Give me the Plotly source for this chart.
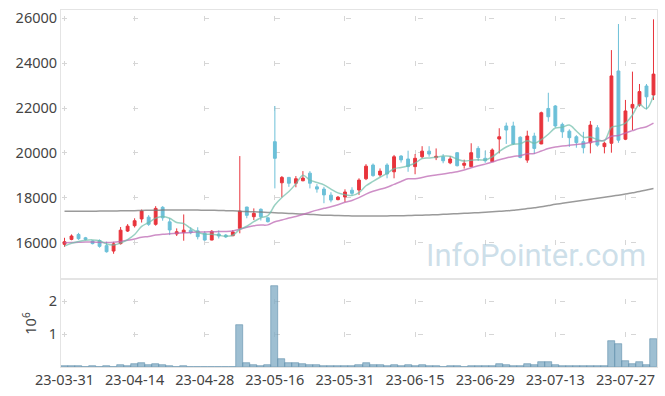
import plotly.graph_objects as go

dates = [
    "23-03-31",
    "23-04-03", "23-04-04", "23-04-05", "23-04-06", "23-04-07",
    "23-04-10", "23-04-11", "23-04-12", "23-04-13", "23-04-14",
    "23-04-17", "23-04-18", "23-04-19", "23-04-20", "23-04-21",
    "23-04-24", "23-04-25", "23-04-26", "23-04-27", "23-04-28",
    "23-05-02", "23-05-03", "23-05-04",
    "23-05-08", "23-05-09", "23-05-10", "23-05-11", "23-05-12",
    "23-05-15", "23-05-16", "23-05-17", "23-05-18", "23-05-19",
    "23-05-22", "23-05-23", "23-05-24", "23-05-25", "23-05-26",
    "23-05-30", "23-05-31", "23-06-01", "23-06-02", "23-06-05",
    "23-06-07", "23-06-08", "23-06-09",
    "23-06-12", "23-06-13", "23-06-14", "23-06-15", "23-06-16",
    "23-06-19", "23-06-20", "23-06-21", "23-06-22", "23-06-23",
    "23-06-26", "23-06-27", "23-06-28", "23-06-29", "23-06-30",
    "23-07-03", "23-07-04", "23-07-05", "23-07-06", "23-07-07",
    "23-07-10", "23-07-11", "23-07-12", "23-07-13", "23-07-14",
    "23-07-17", "23-07-18", "23-07-19", "23-07-20", "23-07-21",
    "23-07-24", "23-07-25", "23-07-26", "23-07-27", "23-07-28",
    "23-07-31", "23-08-01", "23-08-02",
]

open_ = [15930, 16150, 16370, 16220, 16080, 16100, 15870, 15630, 15960, 16520,
         16760, 17060, 17140, 16820, 17580, 16930, 16390, 16450, 16560, 16530,
         16420, 16120, 16390, 16340, 16310, 16640, 17590, 17160, 17490, 17110,
         20500, 18670, 18910, 18650, 18760, 19100, 18490, 18390, 18120, 17920,
         18040, 18340, 18350, 18850, 19460, 19020, 19460, 19160, 19860, 19730,
         19390, 19830, 20080, 19790, 19830, 19560, 20010, 19450, 19390, 20200,
         19760, 19610, 20620, 21200, 21200, 20700, 19680, 20750, 20400, 21980,
         22090, 21270, 20970, 20720, 20500, 20450, 21120, 20280, 20430, 23650,
         20610, 22010, 22130, 22980, 22580]
high = [16220, 16370, 16440, 16260, 16100, 16150, 16050, 16040, 16700, 16830,
        17090, 17480, 17230, 17630, 17630, 17090, 16640, 17260, 16690, 16690,
        16520, 16560, 16550, 16390, 16560, 19860, 17600, 17530, 17530, 17140,
        22090, 18970, 18930, 18970, 19190, 19190, 18610, 18490, 18250, 18080,
        18380, 18470, 18870, 19500, 19530, 19310, 19540, 19910, 19900, 20100,
        19950, 20300, 20300, 20200, 19950, 19860, 20030, 19700, 20430, 20300,
        20100, 20200, 21100, 21350, 21390, 20740, 20990, 20900, 21840, 22680,
        22130, 21350, 21050, 20790, 20940, 21420, 21240, 20500, 24580, 25740,
        22360, 23620, 23070, 23070, 25950]
low = [15820, 16110, 16130, 16110, 15930, 15780, 15560, 15510, 15920, 16480,
       16680, 16900, 16750, 16760, 16980, 16340, 16300, 16090, 16380, 16150,
       16100, 16110, 16190, 16210, 16300, 16420, 17090, 17010, 16990, 16900,
       18420, 18020, 18490, 18470, 18740, 18420, 18230, 17760, 17800, 17890,
       17810, 18100, 18130, 18790, 18940, 18940, 18870, 18870, 19570, 19160,
       19050, 19760, 19830, 19680, 19540, 19500, 19400, 19300, 19380, 19640,
       19560, 19600, 19980, 20400, 20350, 19760, 19560, 19950, 20390, 21390,
       21130, 20670, 20270, 20230, 19980, 19980, 20280, 19980, 20010, 20450,
       20570, 21020, 22060, 21940, 22360]
close = [16045, 16300, 16180, 16150, 15960, 15840, 15600, 15950, 16560, 16740,
         16980, 17410, 16820, 17530, 17110, 16570, 16490, 16560, 16450, 16270,
         16120, 16510, 16300, 16260, 16480, 17410, 17220, 17310, 17160, 16940,
         19760, 18910, 18650, 18850, 18880, 18650, 18390, 18130, 17900, 18030,
         18260, 18200, 18790, 19410, 18990, 19190, 19060, 19830, 19690, 19390,
         19760, 20080, 19950, 19850, 19650, 19730, 19430, 19540, 20010, 19790,
         19650, 20130, 20720, 21020, 20400, 19800, 20750, 20200, 21790, 21610,
         21200, 20940, 20680, 20460, 20230, 21240, 20350, 20430, 23430, 20570,
         21870, 22160, 22730, 22500, 23510]
volume = [30000, 30000, 30000, 5000, 30000, 5000, 30000, 5000, 70000, 30000,
          90000, 120000, 70000, 90000, 70000, 40000, 5000, 30000, 5000, 5000,
          5000, 5000, 5000, 5000, 5000, 1280000, 120000, 60000, 30000, 70000,
          2460000, 245000, 120000, 120000, 90000, 60000, 60000, 30000, 30000, 30000,
          30000, 30000, 60000, 120000, 60000, 60000, 30000, 60000, 30000, 60000,
          30000, 60000, 30000, 30000, 5000, 30000, 30000, 5000, 30000, 30000,
          30000, 30000, 90000, 60000, 30000, 30000, 90000, 60000, 150000, 150000,
          60000, 30000, 30000, 30000, 30000, 30000, 30000, 30000, 800000, 700000,
          190000, 90000, 160000, 60000, 860000]
ma5 = [15850, 15980, 16060, 16110, 16127, 16086, 15946, 15900, 15982, 16138,
       16366, 16728, 16902, 17096, 17170, 17088, 16904, 16852, 16636, 16468,
       16378, 16382, 16330, 16292, 16334, 16592, 16734, 16936, 17116, 17208,
       17678, 18016, 18284, 18622, 19010, 18788, 18684, 18580, 18390, 18220,
       18142, 18104, 18236, 18538, 18730, 18916, 19088, 19296, 19352, 19432,
       19546, 19750, 19774, 19806, 19858, 19852, 19722, 19640, 19672, 19700,
       19684, 19824, 20060, 20262, 20384, 20414, 20538, 20434, 20588, 20830,
       21110, 21148, 21244, 20978, 20702, 20710, 20592, 20542, 21136, 21204,
       21330, 21692, 22152, 21966, 22554]
ma20 = [16000, 16010, 16020, 16030, 16030, 16020, 16010, 16020, 16060, 16110,
        16170, 16240, 16280, 16340, 16380, 16400, 16420, 16440, 16460, 16476,
        16480, 16490, 16496, 16502, 16528, 16606, 16687, 16755, 16785, 16795,
        16934, 17009, 17101, 17167, 17255, 17359, 17454, 17533, 17605, 17693,
        17800, 17885, 18009, 18167, 18292, 18381, 18473, 18599, 18726, 18848,
        18848, 18907, 18972, 19022, 19060, 19114, 19166, 19237, 19342, 19430,
        19500, 19596, 19693, 19773, 19844, 19874, 19959, 19977, 20082, 20193,
        20265, 20308, 20345, 20375, 20404, 20480, 20526, 20570, 20741, 20780,
        20891, 20993, 21093, 21167, 21323]
ma120 = [17400, 17400, 17400, 17405, 17405, 17410, 17410, 17415, 17420, 17425,
         17430, 17440, 17445, 17450, 17455, 17460, 17460, 17460, 17460, 17455,
         17450, 17445, 17440, 17430, 17420, 17405, 17390, 17380, 17365, 17350,
         17335, 17320, 17305, 17290, 17275, 17260, 17245, 17230, 17220, 17210,
         17200, 17195, 17190, 17190, 17190, 17190, 17195, 17200, 17205, 17210,
         17220, 17230, 17240, 17250, 17265, 17280, 17295, 17310, 17325, 17340,
         17360, 17380, 17400, 17420, 17450, 17480, 17520, 17560, 17600, 17655,
         17710, 17755, 17800, 17845, 17890, 17935, 17980, 18025, 18070, 18120,
         18170, 18225, 18280, 18350, 18420]

x_ticks = ["23-03-31", "23-04-14", "23-04-28", "23-05-16", "23-05-31",
           "23-06-15", "23-06-29", "23-07-13", "23-07-27"]
price_ticks = [16000, 18000, 20000, 22000, 24000, 26000]
price_tick_text = ["16000", "18000", "20000", "22000", "24000", "26000"]
vol_ticks = [1000000, 2000000]
vol_tick_text = ["1", "2"]

UP = "#e8343c"
DOWN = "#6cc0d8"
GRID = "#d6d6d6"
FRAME = "#e4e4e4"
FONT = dict(family="Noto Sans", size=14.5, color="#444444")

fig = go.Figure()

fig.add_trace(go.Candlestick(
    x=dates, open=open_, high=high, low=low, close=close,
    increasing=dict(line=dict(color=UP, width=1), fillcolor=UP),
    decreasing=dict(line=dict(color=DOWN, width=1), fillcolor=DOWN),
    whiskerwidth=0, xaxis="x", yaxis="y", showlegend=False,
))
fig.add_trace(go.Scatter(x=dates, y=ma120, mode="lines", xaxis="x", yaxis="y",
                         line=dict(color="rgba(120,120,120,0.75)", width=1.5, shape="spline")))
fig.add_trace(go.Scatter(x=dates, y=ma20, mode="lines", xaxis="x", yaxis="y",
                         line=dict(color="rgba(190,105,180,0.75)", width=1.5, shape="spline")))
fig.add_trace(go.Scatter(x=dates, y=ma5, mode="lines", xaxis="x", yaxis="y",
                         line=dict(color="rgba(110,190,170,0.7)", width=1.5, shape="spline")))

fig.add_trace(go.Bar(x=dates, y=volume, xaxis="x2", yaxis="y2",
                     marker=dict(color="rgba(125,170,195,0.75)",
                                 line=dict(color="rgba(85,135,165,0.9)", width=0.6))))

x_common = dict(type="category", range=[-0.5, len(dates) - 0.5],
                tickmode="array", tickvals=x_ticks, ticktext=x_ticks,
                showgrid=True, gridcolor=GRID, gridwidth=1,
                showline=True, mirror=True, linecolor=FRAME, linewidth=1,
                ticks="", tickfont=FONT, zeroline=False, automargin=False)

fig.update_layout(
    width=665, height=396,
    margin=dict(l=61, r=8, t=10, b=29),
    paper_bgcolor="white", plot_bgcolor="white",
    showlegend=False, boxgap=0.42, bargap=0,
    xaxis=dict(**x_common, anchor="y", domain=[0, 1], showticklabels=False,
               rangeslider=dict(visible=False),
               griddash="0px,5.7px,5px,34.21px"),
    xaxis2=dict(**x_common, anchor="y2", domain=[0, 1], matches="x",
                griddash="0px,18.6px,5px,27.95px,5px,200px"),
    yaxis=dict(domain=[0.2493, 1], range=[14430, 26365], tickvals=price_ticks,
               ticktext=price_tick_text,
               showgrid=True, gridcolor=GRID, gridwidth=1,
               griddash="0px,1px,5px,65.12px",
               showline=True, mirror=True, linecolor=FRAME, linewidth=1,
               ticks="", tickfont=FONT, zeroline=False, automargin=False),
    yaxis2=dict(domain=[0, 0.2437], range=[0, 2640000], tickvals=vol_ticks,
                ticktext=vol_tick_text,
                showgrid=True, gridcolor=GRID, gridwidth=1,
                griddash="0px,1px,5px,65.12px",
                showline=True, mirror=True, linecolor=FRAME, linewidth=1,
                ticks="", tickfont=FONT, zeroline=False, automargin=False,
                title=dict(text="10<sup>6</sup>", font=FONT, standoff=8)),
    annotations=[dict(text="InfoPointer.com", xref="paper", yref="paper",
                      x=0.985, y=0.3137, xanchor="right", yanchor="middle",
                      showarrow=False,
                      font=dict(family="Roboto", size=31,
                                color="rgba(150,188,210,0.48)"))],
)

fig.write_html("out.html", config={"displayModeBar": False},
               post_script="document.body.style.margin='0';document.body.style.overflow='hidden';")
